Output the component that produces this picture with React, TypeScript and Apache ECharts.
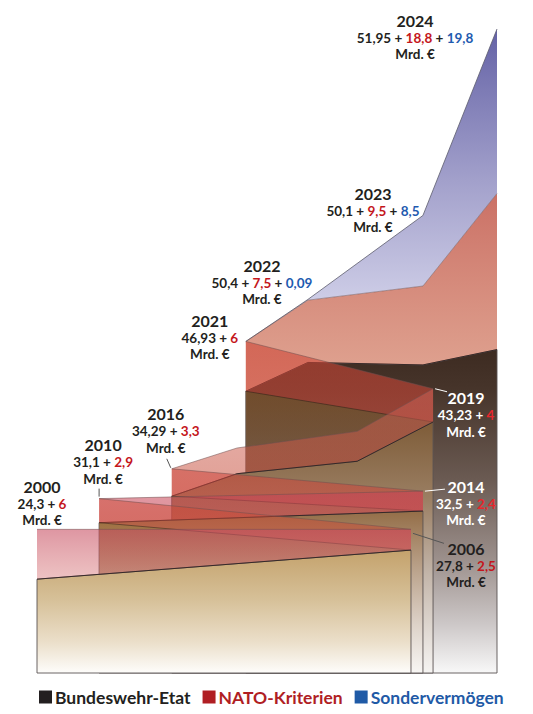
import React, { useEffect, useRef } from "react";
import * as echarts from "echarts";

// ---------- data ----------
const years = [2000, 2006, 2010, 2014, 2016, 2017, 2018, 2019, 2021, 2022, 2023, 2024];
const etat = [24.3, 27.8, 31.1, 32.5, 34.29, 37.0, 38.5, 43.23, 46.93, 50.4, 50.1, 51.95];
const nato = [6, 2.5, 2.9, 2.4, 3.3, 3.1, 3.6, 4, 6, 7.5, 9.5, 18.8];
const sonder = [0, 0, 0, 0, 0, 0, 0, 0, 0, 0.09, 8.5, 19.8];
const labelledYears = [2000, 2006, 2010, 2014, 2016, 2019, 2021, 2022, 2023, 2024];
const legendNames = ["Bundeswehr-Etat", "NATO-Kriterien", "Sondervermögen"];
const unitText = "Mrd. €";

// ---------- layout (hidden depth scale 0..100, value scale) ----------
const Y_MIN = 13;
const Y_MAX = 92;
const depthPos: Record<number, number> = {
  2000: 0, 2006: 81.3, 2010: 13.5, 2014: 83.9, 2016: 29.3, 2017: 43.5, 2018: 69.6,
  2019: 86.1, 2021: 45.4, 2022: 58.9, 2023: 83.9, 2024: 100,
};

// drawing order: back to front; "front" slabs and the ribbons linking them
const segments: { ys: number[]; front: boolean }[] = [
  { ys: [2021, 2022, 2023, 2024], front: true },
  { ys: [2019, 2021], front: false },
  { ys: [2016, 2017, 2018, 2019], front: true },
  { ys: [2014, 2016], front: false },
  { ys: [2010, 2014], front: true },
  { ys: [2006, 2010], front: false },
  { ys: [2000, 2006], front: true },
];

const tint = [[0, "rgba(165,105,45,0.45)"], [0.4, "rgba(165,105,45,0.15)"], [1, "rgba(165,105,45,0)"]];
const segStyles: { body: any[]; red: any[] }[] = [
  {
    body: [[0, "#3d2b21"], [0.12, "#46342a"], [0.4, "#6a5a52"], [0.65, "#9c908c"], [0.85, "#cdc8c8"], [1, "#f8f8f8"]],
    red: [[0, "rgba(188,72,58,0.78)"], [1, "rgba(206,112,82,0.62)"]],
  },
  { body: tint, red: [[0, "rgba(205,70,55,0.6)"], [1, "rgba(205,70,55,0.55)"]] },
  {
    body: [[0, "#7e5c38"], [0.3, "#9a7e62"], [0.6, "#c2b4a8"], [1, "#f6f4f2"]],
    red: [[0, "rgba(205,100,90,0.5)"], [1, "rgba(200,80,60,0.55)"]],
  },
  { body: tint, red: [[0, "rgba(205,70,60,0.55)"], [1, "rgba(205,70,60,0.55)"]] },
  {
    body: [[0, "#946e48"], [0.3, "#b49a80"], [0.7, "#ddd2c8"], [1, "#f8f6f4"]],
    red: [[0, "rgba(200,70,90,0.55)"], [1, "rgba(200,70,80,0.6)"]],
  },
  { body: tint, red: [[0, "rgba(205,75,55,0.5)"], [1, "rgba(205,75,55,0.5)"]] },
  {
    body: [[0, "#c4a26c"], [0.4, "#d6c098"], [0.75, "#ebdfca"], [1, "#fefdfb"]],
    red: [[0, "rgba(200,80,100,0.6)"], [1, "rgba(212,110,112,0.42)"]],
  },
];
const blueStops = [[0, "#6462a6"], [0.5, "#a4a2cc"], [1, "#dcdcf0"]];

const labelLayout: Record<number, { dx: number; dy: number; light?: boolean; leader?: number[][] }> = {
  2000: { dx: 5, dy: -43 },
  2006: { dx: 55, dy: 19, leader: [[2, 4], [33, 14]] },
  2010: { dx: 4, dy: -54, leader: [[0, -10], [0, -2]] },
  2014: { dx: 43, dy: -5, light: true, leader: [[2, 0], [22, -2]] },
  2016: { dx: -6, dy: -55, leader: [[-5, -10], [-1, -1]] },
  2019: { dx: 33, dy: 9, light: true, leader: [[2, 0], [14, 3]] },
  2021: { dx: -36, dy: -21 },
  2022: { dx: -46, dy: -34 },
  2023: { dx: -50, dy: -22 },
  2024: { dx: -82, dy: -9 },
};

const DARK = "#231f20";
const RED = "#c4161c";
const RED_LIGHT = "#e8262c";
const BLUE = "#1f5bb0";
const legendColors = [DARK, "#b01e23", "#1f5aa6"];
const FONT = "Lato, 'Open Sans', sans-serif";

const fmt = (v: number) => String(v).replace(".", ",");
const grad = (stops: any[]) =>
  new echarts.graphic.LinearGradient(0, 0, 0, 1, stops.map(([o, c]) => ({ offset: o, color: c })));

export default function App() {
  const ref = useRef<HTMLDivElement>(null);
  useEffect(() => {
    if (!ref.current) return;
    const chart = echarts.init(ref.current, undefined, { renderer: "svg" });
    const ix = (y: number) => years.indexOf(y);

    const shapeSeries = {
      type: "custom",
      name: "shapes",
      silent: true,
      clip: false,
      data: segments.map((s) => [depthPos[s.ys[0]], etat[ix(s.ys[0])]]),
      renderItem: (params: any, api: any) => {
        const seg = segments[params.dataIndex];
        const st = segStyles[params.dataIndex];
        const ii = seg.ys.map(ix);
        const top1 = ii.map((i) => api.coord([depthPos[years[i]], etat[i]]));
        const top2 = ii.map((i) => api.coord([depthPos[years[i]], etat[i] + nato[i]]));
        const top3 = ii.map((i) => api.coord([depthPos[years[i]], etat[i] + nato[i] + sonder[i]]));
        const b0 = api.coord([depthPos[seg.ys[0]], Y_MIN]);
        const b1 = api.coord([depthPos[seg.ys[seg.ys.length - 1]], Y_MIN]);
        const children: any[] = [];
        children.push({
          type: "polygon",
          shape: { points: [b0, ...top1, b1] },
          style: { fill: grad(st.body), stroke: seg.front ? "#5a5252" : "none", lineWidth: 0.9 },
        });
        children.push({
          type: "polygon",
          shape: { points: [...top1, ...top2.slice().reverse()] },
          style: { fill: grad(st.red), stroke: "none" },
        });
        const hasBlue = ii.some((i) => sonder[i] > 0);
        if (hasBlue) {
          children.push({
            type: "polygon",
            shape: { points: [...top2, ...top3.slice().reverse()] },
            style: { fill: grad(blueStops), stroke: "none" },
          });
          children.push({
            type: "polyline",
            shape: { points: top3 },
            style: { stroke: "#5c5c6c", lineWidth: 0.8, fill: "none" },
          });
        }
        children.push({
          type: "polyline",
          shape: { points: top2 },
          style: { stroke: "rgba(110,80,80,0.65)", lineWidth: 0.8, fill: "none" },
        });
        children.push({
          type: "polyline",
          shape: { points: top1 },
          style: { stroke: seg.front ? "#2e2424" : "rgba(50,35,25,0.6)", lineWidth: 0.9, fill: "none" },
        });
        return { type: "group", children };
      },
    };

    const labelSeries = {
      type: "custom",
      name: "labels",
      silent: true,
      clip: false,
      z: 5,
      data: labelledYears.map((y) => {
        const i = ix(y);
        return [depthPos[y], etat[i] + nato[i] + sonder[i]];
      }),
      renderItem: (params: any, api: any) => {
        const y = labelledYears[params.dataIndex];
        const i = ix(y);
        const p = api.coord([api.value(0), api.value(1)]);
        const L = labelLayout[y];
        const base = L.light ? "#ffffff" : DARK;
        const red = L.light ? RED_LIGHT : RED;
        const cx = p[0] + L.dx;
        const cy = p[1] + L.dy;
        let val = `{k|${fmt(etat[i])}}{k| + }{r|${fmt(nato[i])}}`;
        if (sonder[i] > 0) val += `{k| + }{b|${fmt(sonder[i])}}`;
        const rs = { fontFamily: FONT, fontWeight: "bold", fontSize: 13.5 };
        const children: any[] = [
          {
            type: "text",
            x: cx,
            y: cy,
            style: {
              text: String(y), fill: base, fontFamily: FONT, fontWeight: "bold", fontSize: 16,
              align: "center", verticalAlign: "middle",
            },
          },
          {
            type: "text",
            x: cx,
            y: cy + 17.5,
            style: {
              text: val, fill: base, fontFamily: FONT, fontWeight: "bold", fontSize: 13.5,
              align: "center", verticalAlign: "middle",
              rich: { k: { ...rs, fill: base }, r: { ...rs, fill: red }, b: { ...rs, fill: BLUE } },
            },
          },
          {
            type: "text",
            x: cx,
            y: cy + 34,
            style: {
              text: unitText, fill: base, fontFamily: FONT, fontWeight: "bold", fontSize: 13.5,
              align: "center", verticalAlign: "middle",
            },
          },
        ];
        if (L.leader) {
          children.push({
            type: "line",
            shape: { x1: p[0] + L.leader[0][0], y1: p[1] + L.leader[0][1], x2: p[0] + L.leader[1][0], y2: p[1] + L.leader[1][1] },
            style: { stroke: L.light ? "#ffffff" : "#555555", lineWidth: 1 },
          });
        }
        return { type: "group", children };
      },
    };

    const legendSeries = legendNames.map((n, k) => ({
      type: "line",
      name: n,
      data: [],
      itemStyle: { color: legendColors[k] },
      lineStyle: { color: legendColors[k] },
    }));

    chart.setOption({
      animation: false,
      tooltip: { show: false },
      grid: { left: 37, right: 36, top: 17, bottom: 41 },
      xAxis: { type: "value", min: 0, max: 100, show: false },
      yAxis: { type: "value", min: Y_MIN, max: Y_MAX, show: false },
      legend: {
        left: 34,
        top: 683,
        icon: "rect",
        itemWidth: 13,
        itemHeight: 13,
        itemGap: 12,
        selectedMode: false,
        data: legendNames.map((n, k) => ({ name: n, textStyle: { color: legendColors[k] } })),
        textStyle: { fontFamily: FONT, fontWeight: "bold", fontSize: 17.5, padding: [0, 0, 0, -2] },
      },
      series: [shapeSeries, labelSeries, ...legendSeries],
    });
    return () => chart.dispose();
  }, []);
  return <div ref={ref} style={{ position: "absolute", left: 0, top: 0, width: 533, height: 714 }} />;
}
